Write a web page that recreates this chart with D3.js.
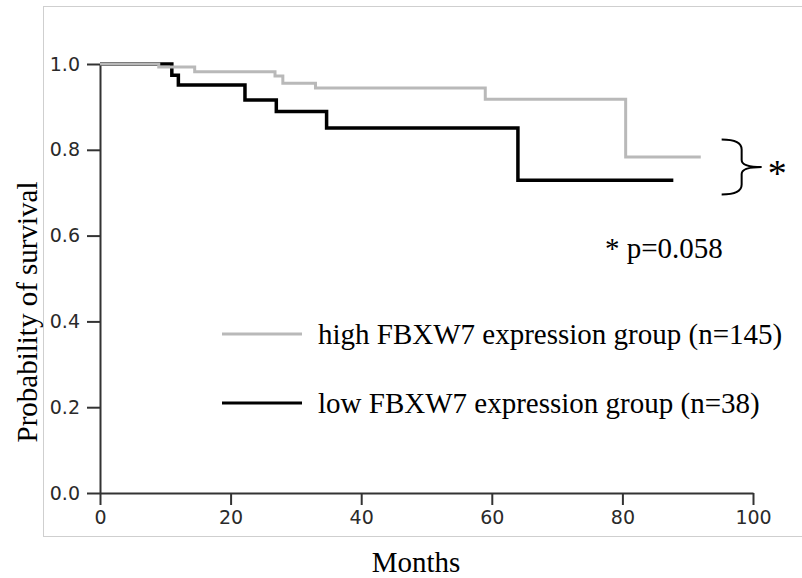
<!DOCTYPE html>
<html>
<head>
<meta charset="utf-8">
<script src="https://cdn.jsdelivr.net/npm/d3@7"></script>
<style>
  body { margin: 0; background: white; }
  .serif { font-family: "Liberation Serif", "Times New Roman", serif; fill: black; }
  .tick text { font-family: "DejaVu Sans", sans-serif; font-size: 19px; fill: #2a2a2a; }
</style>
</head>
<body>
<svg id="km" width="802" height="578"></svg>
<script>
// survival steps (months, probability)
let high_times = [0, 9, 14.5, 26.8, 28, 33, 59, 80.5];
let high_surv  = [1.0, 0.993, 0.982, 0.972, 0.955, 0.944, 0.918, 0.783];
let high_end = 92;

let low_times = [0, 11, 12, 22.2, 27, 34.7, 64];
let low_surv  = [1.0, 0.974, 0.951, 0.916, 0.889, 0.851, 0.729];
let low_end = 87.8;

let x_ticks = [0, 20, 40, 60, 80, 100];
let y_ticks = [0, 0.2, 0.4, 0.6, 0.8, 1.0];

let group_labels = ['high FBXW7 expression group (n=145)', 'low FBXW7 expression group (n=38)'];
let p_label = '* p=0.058';

let GREY = '#b9b9b9';
let AXIS = '#333';
let FS = 29;

let svg = d3.select('#km');

// faint frame round the figure
svg.append('rect')
    .attr('x', 43.5).attr('y', 6.5)
    .attr('width', 760).attr('height', 530)
    .attr('fill', 'none')
    .attr('stroke', '#cfcfcf')
    .attr('stroke-width', 1);

let xScale = d3.scaleLinear().domain([0, 100]).range([100, 753]);
let yScale = d3.scaleLinear().domain([0, 1]).range([493, 64]);

// axes
svg.append('g')
    .attr('transform', `translate(0,${yScale(0)})`)
    .call(d3.axisBottom(xScale).tickValues(x_ticks).tickSize(12).tickSizeOuter(0).tickPadding(6));

svg.append('g')
    .attr('transform', `translate(${xScale(0)},0)`)
    .call(d3.axisLeft(yScale).tickValues(y_ticks).tickSize(13).tickSizeOuter(0).tickPadding(7)
        .tickFormat(d3.format('.1f')));

svg.selectAll('.domain, .tick line')
    .attr('stroke', AXIS)
    .attr('stroke-width', 2);

// build step data
function steps(times, surv, end){
    let pts = times.map((t, i) => ({t: t, s: surv[i]}));
    pts.push({t: end, s: surv[surv.length - 1]});
    return pts;
}

let line = d3.line()
    .x(d => xScale(d.t))
    .y(d => yScale(d.s))
    .curve(d3.curveStepAfter);

svg.append('path')
    .datum(steps(low_times, low_surv, low_end))
    .attr('d', line)
    .attr('fill', 'none')
    .attr('stroke', 'black')
    .attr('stroke-width', 3.5);

svg.append('path')
    .datum(steps(high_times, high_surv, high_end))
    .attr('d', line)
    .attr('fill', 'none')
    .attr('stroke', GREY)
    .attr('stroke-width', 3);

// brace and star
let bx = xScale(95.2), by1 = yScale(0.824), by2 = yScale(0.696);
let bm = (by1 + by2) / 2;
svg.append('path')
    .attr('d', `M${bx},${by1} Q${bx+20},${by1} ${bx+20},${by1+10} L${bx+20},${bm-7} Q${bx+20},${bm} ${bx+40},${bm}
                Q${bx+20},${bm} ${bx+20},${bm+7} L${bx+20},${by2-10} Q${bx+20},${by2} ${bx},${by2}`)
    .attr('fill', 'none')
    .attr('stroke', 'black')
    .attr('stroke-width', 2);

svg.append('text')
    .attr('class', 'serif')
    .attr('x', bx + 46).attr('y', bm + 19)
    .attr('font-size', 38)
    .text('*');

svg.append('text')
    .attr('class', 'serif')
    .attr('x', 605).attr('y', 258)
    .attr('font-size', FS)
    .text(p_label);

// legend
let legend_y = [334, 403];
let legend_col = [GREY, 'black'];
let lg = svg.append('g');
lg.selectAll('line')
    .data(group_labels)
    .join('line')
    .attr('x1', 222).attr('x2', 302)
    .attr('y1', (d, i) => legend_y[i]).attr('y2', (d, i) => legend_y[i])
    .attr('stroke', (d, i) => legend_col[i])
    .attr('stroke-width', 3);
lg.selectAll('text')
    .data(group_labels)
    .join('text')
    .attr('class', 'serif')
    .attr('x', 318)
    .attr('y', (d, i) => legend_y[i] + 10)
    .attr('font-size', FS)
    .text(d => d);

// axis titles
svg.append('text')
    .attr('class', 'serif')
    .attr('text-anchor', 'middle')
    .attr('x', 416).attr('y', 572)
    .attr('font-size', FS)
    .text('Months');

svg.append('text')
    .attr('class', 'serif')
    .attr('text-anchor', 'middle')
    .attr('transform', 'translate(37,312) rotate(-90)')
    .attr('font-size', FS)
    .text('Probability of survival');
</script>
</body>
</html>
